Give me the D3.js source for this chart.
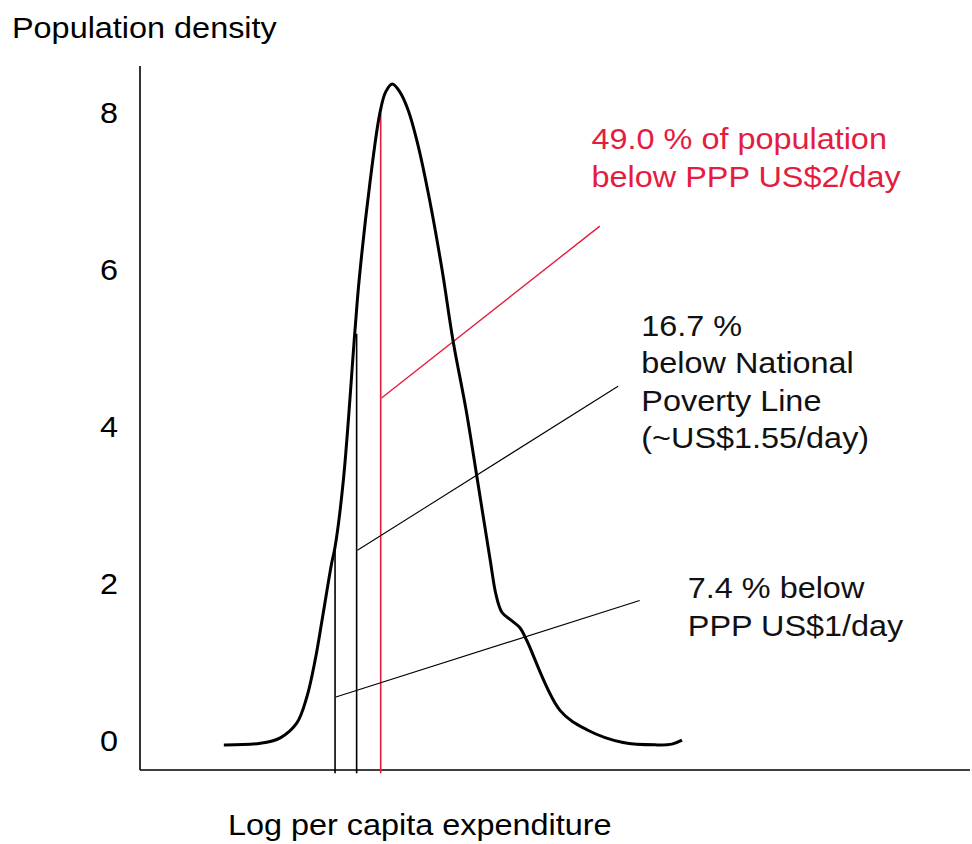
<!DOCTYPE html>
<html>
<head>
<meta charset="utf-8">
<script src="https://cdn.jsdelivr.net/npm/d3@7"></script>
<style>
  body { margin: 0; background: #fff; }
  text { font-family: "Liberation Sans", Arial, sans-serif; }
</style>
</head>
<body>
<div class="content"></div>
<script>
var width = 972
var height = 844

// density curve, x = log per capita expenditure (arbitrary units), y = density
var curveX = [1.01, 1.45, 1.69, 1.89, 2.01, 2.11, 2.20, 2.31, 2.35, 2.45, 2.59, 2.64, 2.77, 2.89, 2.96,
    3.04, 3.13, 3.23, 3.35, 3.49, 3.64, 3.77, 3.93, 4.06, 4.22, 4.29, 4.36, 4.47, 4.58, 4.66,
    5.06, 5.39, 5.82, 6.23, 6.41, 6.53]
var curveY = [-0.06, -0.04, 0.03, 0.22, 0.55, 1.02, 1.57, 2.26, 2.46, 3.31, 5.22, 5.86, 7.10, 7.99, 8.26,
    8.36, 8.26, 8.03, 7.58, 6.88, 5.99, 5.10, 4.20, 3.35, 2.29, 1.85, 1.63, 1.53, 1.43, 1.27,
    0.38, 0.13, -0.03, -0.06, -0.05, 0.00]

// poverty lines: position on x and height where they meet the curve
var povertyX = [2.35, 2.61, 2.90]
var povertyTop = [2.46, 5.18, 7.99]
var povertyColor = ['#000', '#000', '#e41c3f']

// leader lines from each poverty line to its label
var leaderFrom = [[2.36, 0.55], [2.62, 2.42], [2.91, 4.36]]
var leaderTo = [[6.02, 1.78], [5.76, 4.51], [5.54, 6.55]]

var labelLines = [
    ['7.4 % below', 'PPP US$1/day'],
    ['16.7 %', 'below National', 'Poverty Line', '(~US$1.55/day)'],
    ['49.0 % of population', 'below PPP US$2/day']
]
var labelAnchor = [[6.6, 1.81], [6.04, 5.15], [5.44, 7.53]]

var yTicks = [0, 2, 4, 6, 8]

var x = d3.scaleLinear()
    .domain([0, 10])
    .range([140, 970])

var y = d3.scaleLinear()
    .domain([-0.38, 8.59])
    .range([770, 66])

var svg = d3.select('.content').append('svg')
    .attr('width', width)
    .attr('height', height)

// stretched text like the original picture
function label(g, tx, ty, str) {
    return g.append('text')
        .attr('transform', 'translate(' + tx + ',' + ty + ') scale(1.08,1)')
        .attr('font-size', 30)
        .text(str)
}

// axes frame
svg.append('line')
    .attr('x1', x(0)).attr('x2', x(0))
    .attr('y1', y(-0.38)).attr('y2', y(8.59))
    .attr('stroke', '#000').attr('stroke-width', 1.6)
svg.append('line')
    .attr('x1', x(0)).attr('x2', x(10))
    .attr('y1', y(-0.38)).attr('y2', y(-0.38))
    .attr('stroke', '#000').attr('stroke-width', 1.6)

yTicks.forEach(function(t) {
    label(svg, 109, y(t) + 11, t).attr('text-anchor', 'middle')
})

label(svg, 12, 38, 'Population density')
label(svg, 228, 835, 'Log per capita expenditure')

// vertical poverty lines
svg.append('g')
    .selectAll('line')
    .data(povertyX)
    .enter().append('line')
    .attr('x1', function(d) { return x(d) })
    .attr('x2', function(d) { return x(d) })
    .attr('y1', function(d, i) { return y(povertyTop[i]) })
    .attr('y2', y(-0.42))
    .attr('stroke', function(d, i) { return povertyColor[i] })
    .attr('stroke-width', 1.6)

// leader lines
svg.append('g')
    .selectAll('line')
    .data(leaderFrom)
    .enter().append('line')
    .attr('x1', function(d) { return x(d[0]) })
    .attr('y1', function(d) { return y(d[1]) })
    .attr('x2', function(d, i) { return x(leaderTo[i][0]) })
    .attr('y2', function(d, i) { return y(leaderTo[i][1]) })
    .attr('stroke', function(d, i) { return povertyColor[i] })
    .attr('stroke-width', function(d, i) { return i == 2 ? 1.4 : 1.1 })

// density curve
var line = d3.line()
    .x(function(d, i) { return x(curveX[i]) })
    .y(function(d) { return y(d) })
    .curve(d3.curveCatmullRom.alpha(0.5))

svg.append('path')
    .datum(curveY)
    .attr('d', line)
    .attr('fill', 'none')
    .attr('stroke', '#000')
    .attr('stroke-width', 3)
    .attr('stroke-linejoin', 'round')

// labels
labelLines.forEach(function(lines, i) {
    lines.forEach(function(s, j) {
        label(svg, x(labelAnchor[i][0]), y(labelAnchor[i][1]) + j * 37.5, s)
            .attr('fill', i == 2 ? '#e41c3f' : '#111')
    })
})
</script>
</body>
</html>
